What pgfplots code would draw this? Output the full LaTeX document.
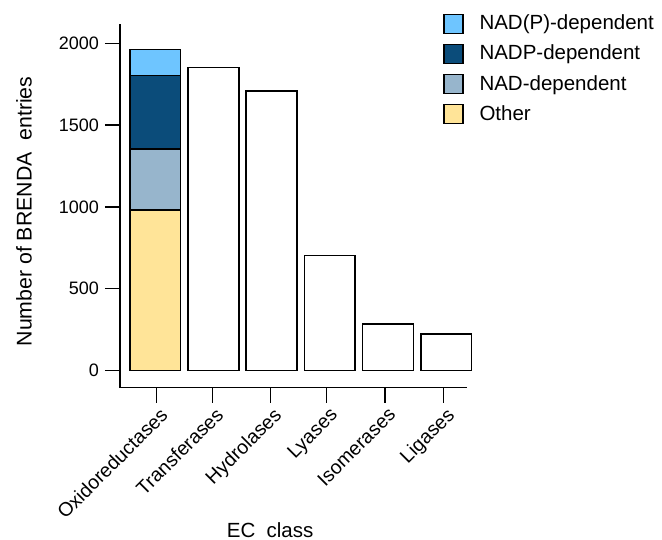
\documentclass[border=0pt]{standalone}
\usepackage{fontspec}
\setmainfont{Liberation Sans}
\usepackage{pgfplots}
\pgfplotsset{compat=1.18}
\definecolor{napc}{HTML}{6EC5FF}
\definecolor{nadpc}{HTML}{0B4C7A}
\definecolor{nadc}{HTML}{97B5CC}
\definecolor{othc}{HTML}{FFE498}
\begin{document}
\begin{tikzpicture}
\begin{axis}[
  at={(0pt,0pt)}, anchor=south west,
  scale only axis, width=346.7pt, height=362.7pt,
  xmin=-0.605, xmax=5.352, ymin=-105, ymax=2112,
  axis x line=bottom, axis y line=left,
  axis line style={-, line width=1.5pt, line cap=rect},
  ybar stacked, bar width=0.873,
  tick align=outside, major tick length=15pt,
  tick style={line width=1.5pt, black},
  xtick={0.026,0.981,1.978,2.947,3.948,4.950},
  xticklabels={Oxidoreductases,Transferases,Hydrolases,Lyases,Isomerases,Ligases},
  ytick={0,500,1000,1500,2000},
  /pgf/number format/assume math mode=true,
  scaled y ticks=false,
  yticklabel style={/pgf/number format/1000 sep={}},
  tick label style={font=\fontsize{18}{18}\selectfont},
  xticklabel style={rotate=45, anchor=north east, inner sep=1pt, yshift=-3pt, font=\fontsize{19.5}{19.5}\selectfont},
  yticklabel style={inner sep=1pt, xshift=-5pt},
  xlabel={EC~~class},
  ylabel={Number of BRENDA~~entries},
  label style={font=\fontsize{20.5}{20.5}\selectfont},
  xlabel style={at={(axis description cs:0.433,-0.412)}, anchor=base},
  ylabel style={at={(axis description cs:-0.277,0.486)}, anchor=center, rotate=0, font=\fontsize{21.3}{21.3}\selectfont},
  every axis plot post/.append style={
    draw=black, line width=1.6pt,
    legend image code/.code={\draw[##1, draw=black, line width=1.3pt] (0pt,-8.5pt) rectangle (19pt,10.5pt);}
  },
  legend style={at={(axis description cs:0.9317,1.0317)}, anchor=north west,
    draw=none, fill=none, font=\fontsize{20.5}{20.5}\selectfont,
    row sep=9pt, inner sep=0pt, cells={anchor=west},
    nodes={inner sep=0pt, text height=15pt, text depth=5pt},
    /tikz/every odd column/.append style={column sep=16pt}},
  reverse legend,
  clip=false,
]
\addplot[fill=white, forget plot] coordinates {(0,0) (1,1853) (2,1707) (3,702) (4,283) (5,222)};
\addplot[fill=othc] coordinates {(0,981) (1,0) (2,0) (3,0) (4,0) (5,0)};
\addplot[fill=nadc] coordinates {(0,373) (1,0) (2,0) (3,0) (4,0) (5,0)};
\addplot[fill=nadpc] coordinates {(0,450) (1,0) (2,0) (3,0) (4,0) (5,0)};
\addplot[fill=napc] coordinates {(0,159) (1,0) (2,0) (3,0) (4,0) (5,0)};
\legend{Other,NAD-dependent,NADP-dependent,NAD(P)-dependent}
\end{axis}
\pgfresetboundingbox
\useasboundingbox (-120pt,-152.3pt) rectangle (542pt,387.7pt);
\end{tikzpicture}
\end{document}
